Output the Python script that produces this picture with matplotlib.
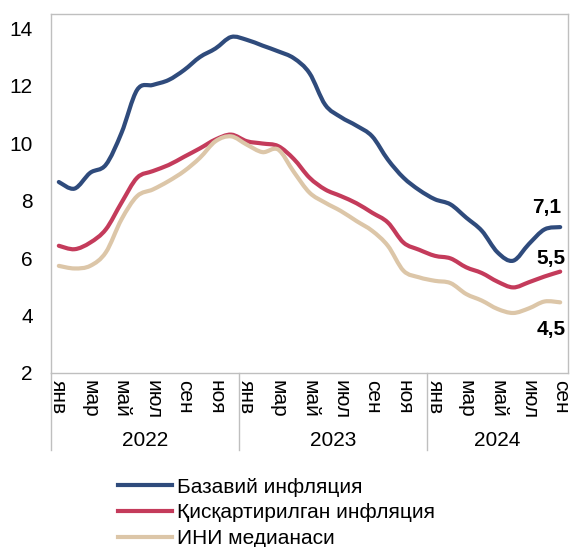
import numpy as np
import matplotlib
matplotlib.use("Agg")
import matplotlib.pyplot as plt
import matplotlib.transforms as mtransforms
from matplotlib.path import Path
from matplotlib.patches import PathPatch
from matplotlib.lines import Line2D

plt.rcParams['font.family'] = ['Liberation Sans', 'DejaVu Sans']

months = ["янв", "фев", "мар", "апр", "май", "июн",
          "июл", "авг", "сен", "окт", "ноя", "дек"]
years = ["2022", "2023", "2024"]
n_months = 33  # янв 2022 - сен 2024

base_infl = [8.65, 8.42, 8.97, 9.25, 10.36, 11.86, 12.03, 12.2, 12.55, 13.0, 13.3, 13.7,
             13.6, 13.4, 13.2, 12.96, 12.44, 11.34, 10.91, 10.61, 10.24, 9.43, 8.8, 8.37,
             8.05, 7.87, 7.41, 6.95, 6.2, 5.91, 6.49, 7.0, 7.08]
trim_infl = [6.43, 6.31, 6.54, 7.0, 7.93, 8.8, 9.03, 9.24, 9.53, 9.82, 10.13, 10.3,
             10.07, 9.99, 9.9, 9.45, 8.8, 8.39, 8.16, 7.91, 7.58, 7.24, 6.54, 6.29,
             6.08, 5.99, 5.68, 5.48, 5.18, 4.98, 5.16, 5.36, 5.53]
cpi_median = [5.73, 5.64, 5.73, 6.2, 7.35, 8.16, 8.39, 8.68, 9.03, 9.49, 10.07, 10.24,
              9.95, 9.69, 9.78, 9.0, 8.28, 7.93, 7.64, 7.29, 6.95, 6.43, 5.56, 5.33,
              5.21, 5.13, 4.75, 4.52, 4.23, 4.09, 4.25, 4.49, 4.46]

series_names = ["Базавий инфляция", "Қисқартирилган инфляция", "ИНИ медианаси"]
colors = ["#2F4B7C", "#C43B5B", "#DCC6A8"]
end_labels = ["7,1", "5,5", "4,5"]


def smooth_path(xs, ys):
    # bezier through the points, like excel's smoothed line
    pts = np.column_stack([xs, ys]).astype(float)
    verts = [pts[0]]
    codes = [Path.MOVETO]
    n = len(pts)
    for i in range(n - 1):
        p0 = pts[i - 1] if i > 0 else pts[i]
        p1 = pts[i]
        p2 = pts[i + 1]
        p3 = pts[i + 2] if i + 2 < n else pts[i + 1]
        verts += [p1 + (p2 - p0) / 6, p2 - (p3 - p1) / 6, p2]
        codes += [Path.CURVE4] * 3
    return Path(verts, codes)


fig = plt.figure(figsize=(5.71, 5.47), dpi=100)
ax = fig.add_axes([0.0893, 0.3181, 0.9055, 0.6563])

x = np.arange(n_months)
handles = []
for vals, name, c in zip([base_infl, trim_infl, cpi_median], series_names, colors):
    ax.add_patch(PathPatch(smooth_path(x, vals), facecolor='none', edgecolor=c, lw=3,
                           capstyle='round', joinstyle='round'))
    handles.append(Line2D([], [], color=c, lw=3, label=name))

# end value labels
ax.text(x[-1] - 0.85, 7.77, end_labels[0], ha='center', va='center', fontsize=15, fontweight='bold')
ax.text(x[-1] - 0.6, 6.0, end_labels[1], ha='center', va='center', fontsize=15, fontweight='bold')
ax.text(x[-1] - 0.6, 3.5, end_labels[2], ha='center', va='center', fontsize=15, fontweight='bold')

ax.set_xlim(-0.5, n_months - 0.5)
ax.set_ylim(2, 14.5)
ax.set_yticks([2, 4, 6, 8, 10, 12, 14])
ax.tick_params(axis='y', length=0, pad=13, labelsize=15)

tick_pos = x[::2]
tick_lab = [months[i % 12] for i in tick_pos]
ax.set_xticks(tick_pos)
ax.set_xticklabels(tick_lab, rotation=270, fontsize=15)
ax.tick_params(axis='x', length=0, pad=5)

for s in ax.spines.values():
    s.set_color("#BFBFBF")
    s.set_linewidth(1)

# year groups under the month labels
trans = mtransforms.blended_transform_factory(ax.transData, ax.transAxes)
for k, yr in enumerate(years):
    start = 12 * k - 0.5
    end = min(12 * (k + 1), n_months) - 0.5
    ax.text((start + end) / 2, -0.187, yr, transform=trans, ha='center', va='center', fontsize=15)
for b in [-0.5, 11.5, 23.5]:
    ax.plot([b, b], [0, -0.215], transform=trans, color="#BFBFBF", lw=1, clip_on=False)

fig.legend(handles=handles, loc='upper left', bbox_to_anchor=(118 / 571, 0.127), frameon=False,
           fontsize=15, handlelength=2.6, handletextpad=0.25, labelspacing=0.33,
           borderpad=0, borderaxespad=0)

fig.savefig("out.png", dpi=100)
